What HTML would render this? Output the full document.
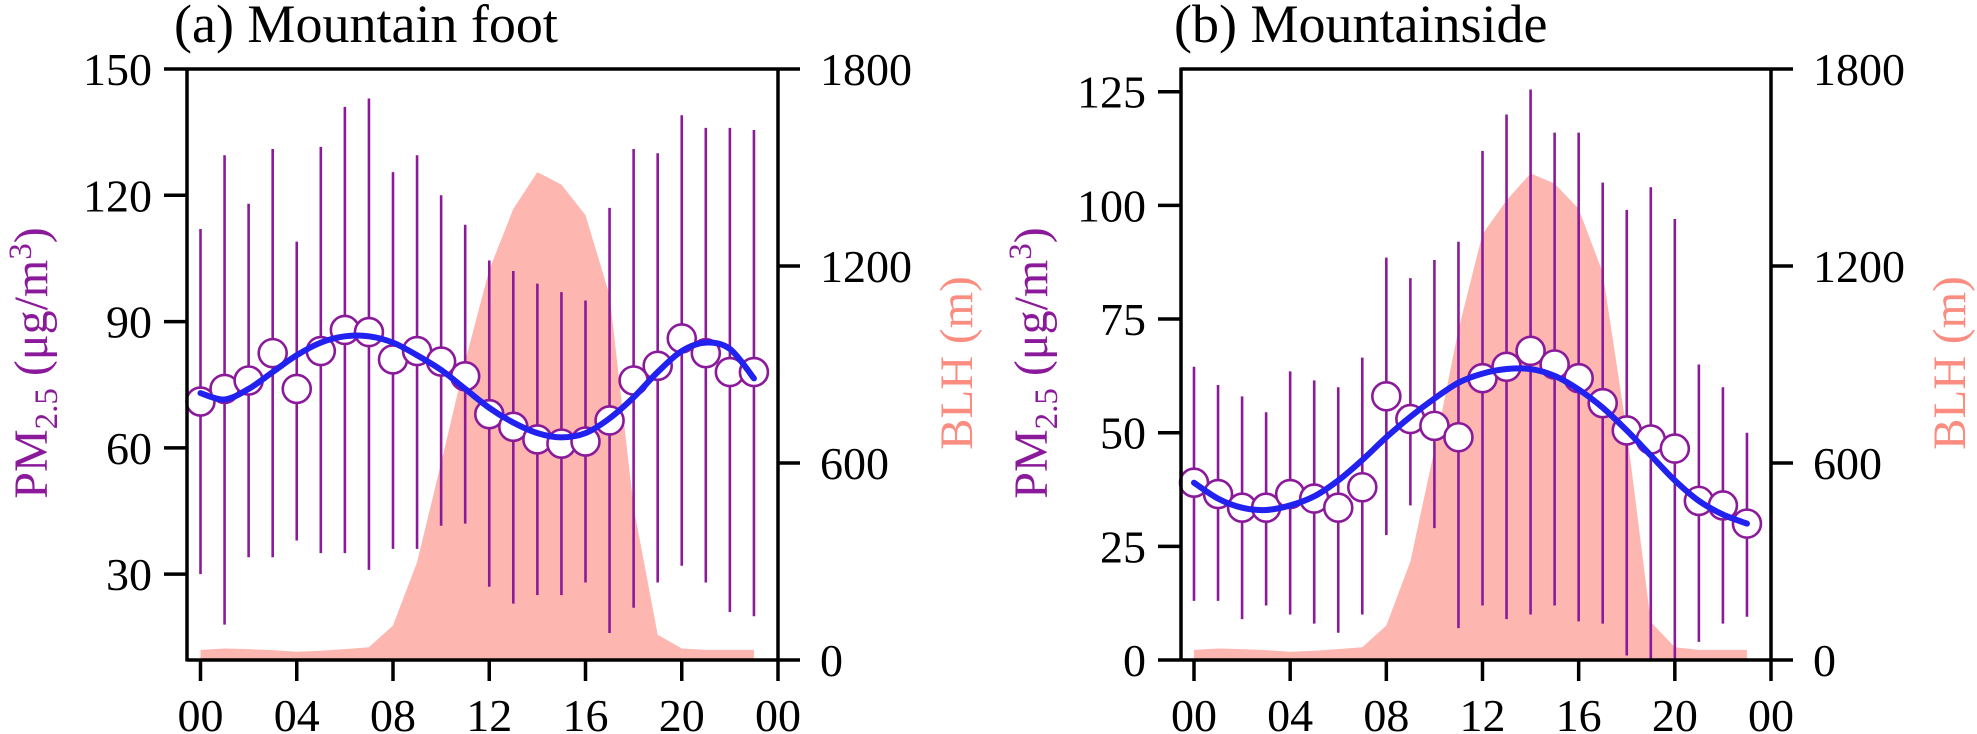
<!DOCTYPE html>
<html><head><meta charset="utf-8"><style>
html,body{margin:0;padding:0;background:#fff;}
svg{display:block;font-family:"Liberation Serif",serif;}
</style></head><body>
<svg id="chart" width="1977" height="734" viewBox="0 0 1977 734" xmlns="http://www.w3.org/2000/svg"></svg>
<script>
const hours = [0,1,2,3,4,5,6,7,8,9,10,11,12,13,14,15,16,17,18,19,20,21,22,23];
const xTickLabels = ["00","04","08","12","16","20","00"];
// Panel a
const pmMeanA = [71,74,76,82.5,74,83,88,87.5,81,83,80.5,77,68,65,62,61,61.5,66.5,76,79.5,86,82.5,78,78];
const pmHighA = [112,129.5,118,131,109,131.5,141,143,125.5,129.5,120,113,104.5,102,99,97,95,117,131,130,139,136,136,135.5];
const pmLowA  = [30,18,34,34,38,35,35,31,36,36,41.5,42,27,23,25,25,28,16,22,28,32,28,21,20];
const blhA    = [31,35,33,30,25,28,33,39,105,298,600,910,1188,1374,1486,1448,1355,1111,465,77,35,31,31,31];
const fitA    = [73,71.5,74,78,82,85,86.5,86.5,85,82,78.5,74,69.5,66,63.5,62.5,63.5,67,72,78,83,85,83.5,76.5];
const yTicksA = [30,60,90,120,150];
// Panel b
const pmMeanB = [39,36.5,33.5,33.5,36.5,35.5,33.5,38,58,53,51.5,49,62,64.5,68,65,62,56.5,50.5,48.5,46.5,35,34,30];
const pmHighB = [64.5,60.5,58,54.5,63.5,61.5,60,66.5,88.5,84,88,92,112,120,125.5,116,116,105,99,104,97,65,60,50];
const pmLowB  = [13,13,9,12,10,8,6,10,27.5,34,29,7,12,9,10,12,8.5,8,1,0,0,4,8,9.5];
const blhB    = [31,35,33,30,25,28,33,39,105,300,640,1006,1297,1400,1482,1451,1374,1180,697,116,39,31,31,31];
const fitB    = [39,35.5,33.5,33,34,36,39.5,44,49,53.5,57.5,61,63,64,64,62.5,59.5,55.5,50.5,45,39.5,35,32,30];
const yTicksB = [0,25,50,75,100,125];
const blhTicks = [0,600,1200,1800];

const NS="http://www.w3.org/2000/svg";
const svg=document.getElementById('chart');
function mk(tag,attrs,parent){const e=document.createElementNS(NS,tag);for(const k in attrs)e.setAttribute(k,attrs[k]);(parent||svg).appendChild(e);return e;}

function panel(cfg){
  const g=mk('g',{});
  
  
  const L=cfg.left,R=cfg.right,T=69,B=660,x0=cfg.x0,dx=(R-x0)/24;
  const X=h=>x0+h*dx;
  const Y=v=>B-(v-cfg.ymin)/(cfg.ymax-cfg.ymin)*(B-T);
  const Y2=v=>B-v/1800*(B-T);
  let d='M'+X(hours[0])+','+Y2(0);
  hours.forEach((h,i)=>{d+=' L'+X(h)+','+Y2(cfg.blh[i]);});
  d+=' L'+X(hours[hours.length-1])+','+Y2(0)+' Z';
  const area=mk('path',{d:d,fill:'#fdb6b0'},g);
  
  
  hours.forEach((h,i)=>{
    const l=mk('line',{x1:X(h),x2:X(h),y1:Y(Math.min(cfg.high[i],cfg.ymax)),y2:Y(Math.max(cfg.low[i],cfg.ymin)),stroke:'#8b1a9b','stroke-width':2.6},g);
    
    
  });
  hours.forEach((h,i)=>{
    const c=mk('circle',{cx:X(h),cy:Y(cfg.mean[i]),r:14,fill:'#fff',stroke:'#8b1a9b','stroke-width':2.6},g);
    
    
  });
  const pts=hours.map((h,i)=>[X(h),Y(cfg.fit[i])]);
  let fd='M'+pts[0][0]+','+pts[0][1];
  for(let i=0;i<pts.length-1;i++){
    const p0=pts[Math.max(i-1,0)],p1=pts[i],p2=pts[i+1],p3=pts[Math.min(i+2,pts.length-1)];
    fd+=' C'+(p1[0]+(p2[0]-p0[0])/6)+','+(p1[1]+(p2[1]-p0[1])/6)+' '+(p2[0]-(p3[0]-p1[0])/6)+','+(p2[1]-(p3[1]-p1[1])/6)+' '+p2[0]+','+p2[1];
  }
  const fit=mk('path',{d:fd,fill:'none',stroke:'#2121f0','stroke-width':6,'stroke-linecap':'round'},g);
  
  
  const fr=mk('path',{d:`M${L},${T} H${R} M${L},${B} H${R} M${L},${T-1.5} V${B+1.5} M${R},${T-1.5} V${B+1.5}`,stroke:'#000','stroke-width':3.5,fill:'none'},g);
  
  
  cfg.yticks.forEach(v=>{
    mk('line',{x1:L-23,x2:L,y1:Y(v),y2:Y(v),stroke:'#000','stroke-width':3.5},g);
    const t=mk('text',{x:L-35,y:Y(v)+16,'text-anchor':'end','font-size':46},g);
    t.textContent=v;
    
    
  });
  blhTicks.forEach(v=>{
    mk('line',{x1:R,x2:R+22,y1:Y2(v),y2:Y2(v),stroke:'#000','stroke-width':3.5},g);
    const t=mk('text',{x:R+42,y:Y2(v)+16,'font-size':46},g);
    t.textContent=v;
    
    
  });
  xTickLabels.forEach((lab,i)=>{
    const x=X(i*4);
    mk('line',{x1:x,x2:x,y1:B,y2:B+21,stroke:'#000','stroke-width':3.5},g);
    const t=mk('text',{x:x,y:731,'text-anchor':'middle','font-size':46},g);
    t.textContent=lab;
    
    
  });
  const tt=mk('text',{x:cfg.titleX,y:42,'font-size':54},g);
  tt.textContent=cfg.title;
  
  
  const yl=mk('text',{transform:`translate(${cfg.pmX},363) rotate(-90)`,'text-anchor':'middle','font-size':48,fill:'#8b1a9b'},g);
  
  
  yl.innerHTML='PM<tspan font-size="33" dy="10">2.5</tspan><tspan dy="-10"> (μg/m</tspan><tspan font-size="33" dy="-16">3</tspan><tspan dy="16">)</tspan>';
  const bl=mk('text',{transform:`translate(${cfg.blhX},363) rotate(-90)`,'text-anchor':'middle','font-size':47,fill:'#fa8c80'},g);
  bl.textContent='BLH (m)';
  
  
}
panel({name:'panel-a-mountain-foot',left:187,right:778,x0:200.5,ymin:9.6,ymax:150,yticks:yTicksA,mean:pmMeanA,high:pmHighA,low:pmLowA,blh:blhA,fit:fitA,title:'(a) Mountain foot',titleX:174,pmX:47,blhX:972});
panel({name:'panel-b-mountainside',left:1181,right:1771,x0:1194,ymin:0,ymax:130,yticks:yTicksB,mean:pmMeanB,high:pmHighB,low:pmLowB,blh:blhB,fit:fitB,title:'(b) Mountainside',titleX:1174,pmX:1047,blhX:1965});
</script>
</body></html>
